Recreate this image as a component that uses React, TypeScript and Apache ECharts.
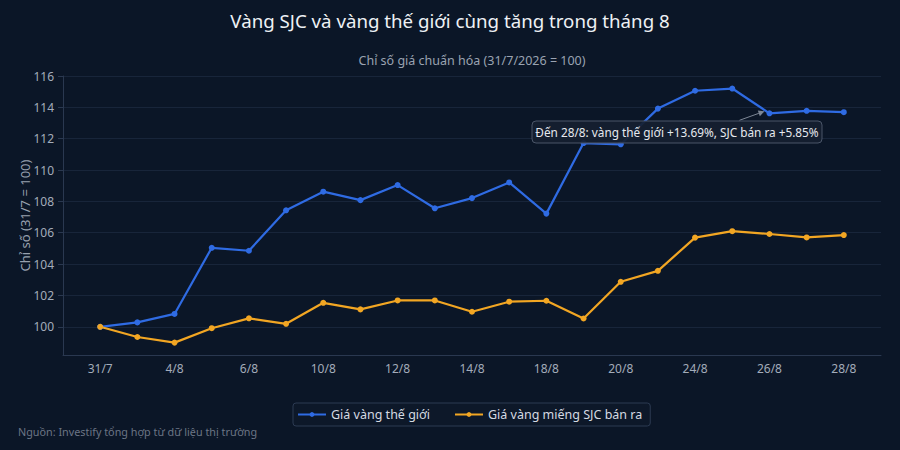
import React, { useEffect, useRef } from "react";
import * as echarts from "echarts";

const dates = [
  "31/7", "3/8", "4/8", "5/8", "6/8", "7/8", "10/8", "11/8", "12/8", "13/8", "14/8",
  "17/8", "18/8", "19/8", "20/8", "21/8", "24/8", "25/8", "26/8", "27/8", "28/8",
];
const worldGold = [
  100, 100.28, 100.82, 105.04, 104.85, 107.43, 108.62, 108.08, 109.04, 107.56, 108.21,
  109.21, 107.22, 111.72, 111.64, 113.92, 115.06, 115.2, 113.62, 113.78, 113.69,
];
const sjcGold = [
  100, 99.35, 98.99, 99.91, 100.54, 100.19, 101.53, 101.11, 101.68, 101.68, 100.96,
  101.6, 101.66, 100.53, 102.87, 103.57, 105.69, 106.1, 105.92, 105.7, 105.85,
];
const yTicks = [100, 102, 104, 106, 108, 110, 112, 114, 116];

const BG = "#0b1627";
const FONT = "Noto Sans";

const pct = (v: number) => `+${(v - 100).toFixed(2)}%`;

const App: React.FC = () => {
  const chartRef = useRef<HTMLDivElement>(null);

  useEffect(() => {
    if (!chartRef.current) return;
    const chart = echarts.init(chartRef.current, undefined, { renderer: "svg" });

    // pad one empty slot on each side so the line sits inside the frame
    const cats = ["", ...dates, ""];
    const pad = (arr: number[]) => [null, ...arr, null];
    const last = dates.length - 1;
    const note = `Đến ${dates[last]}: vàng thế giới ${pct(worldGold[last])}, SJC bán ra ${pct(sjcGold[last])}`;

    const option: echarts.EChartsOption = {
      animation: false,
      backgroundColor: BG,
      textStyle: { fontFamily: FONT },
      title: [
        {
          text: "Vàng SJC và vàng thế giới cùng tăng trong tháng 8",
          left: "center",
          top: 11,
          padding: 0,
          textStyle: { color: "#eef1f5", fontSize: 18.7, fontWeight: "normal", fontFamily: FONT },
        },
        {
          text: "Chỉ số giá chuẩn hóa (31/7/2026 = 100)",
          left: 472,
          textAlign: "center",
          top: 54,
          padding: 0,
          textStyle: { color: "#9aa3b1", fontSize: 12.5, fontWeight: "normal", fontFamily: FONT },
        },
        {
          text: "Nguồn: Investify tổng hợp từ dữ liệu thị trường",
          left: 18,
          top: 426,
          padding: 0,
          textStyle: { color: "#6b7585", fontSize: 10.8, fontWeight: "normal", fontFamily: FONT },
        },
      ],
      grid: { left: 63, right: 19, top: 76, bottom: 95 },
      legend: {
        left: 293,
        top: 403,
        padding: [5, 8, 5, 4],
        itemGap: 24,
        itemWidth: 28,
        itemHeight: 6,
        borderColor: "#2c3a52",
        borderWidth: 1,
        borderRadius: 3,
        backgroundColor: "#0d1829",
        textStyle: { color: "#d5dae2", fontSize: 12.5, fontFamily: FONT },
        data: ["Giá vàng thế giới", "Giá vàng miếng SJC bán ra"],
      },
      xAxis: {
        type: "category",
        data: cats,
        boundaryGap: false,
        axisLine: { lineStyle: { color: "#2a3850" } },
        axisTick: { show: false },
        axisLabel: {
          color: "#a3acba",
          fontSize: 12,
          margin: 7,
          interval: (i: number) => i % 2 === 1,
        },
        splitLine: { show: false },
      },
      yAxis: {
        type: "value",
        min: 98.2,
        max: 116,
        name: "Chỉ số (31/7 = 100)",
        nameLocation: "middle",
        nameGap: 32,
        nameMoveOverlap: false,
        nameTextStyle: { color: "#98a1af", fontSize: 13, fontFamily: FONT },
        axisLine: { show: true, lineStyle: { color: "#2a3850" } },
        axisTick: { show: true, length: 5, lineStyle: { color: "#2a3850" }, customValues: yTicks },
        axisLabel: { color: "#a3acba", fontSize: 12, margin: 9, customValues: yTicks },
        splitLine: { show: true, lineStyle: { color: "#18253a", width: 1 } },
      } as any,
      series: [
        {
          name: "Giá vàng thế giới",
          type: "line",
          data: pad(worldGold),
          color: "#2f6be3",
          lineStyle: { width: 2.2 },
          symbol: "circle",
          symbolSize: 6,
        },
        {
          name: "Giá vàng miếng SJC bán ra",
          type: "line",
          data: pad(sjcGold),
          color: "#f2a623",
          lineStyle: { width: 2.2 },
          symbol: "circle",
          symbolSize: 6,
        },
      ],
    };
    chart.setOption(option);

    // annotation box + arrow toward the late-month world price
    const tip = chart.convertToPixel({ gridIndex: 0 }, [19, worldGold[18]]) as number[];
    const hx = tip[0] - 5;
    const hy = tip[1] - 2;
    const tx = hx - 25;
    const ty = hy + 9;
    const ang = Math.atan2(hy - ty, hx - tx);
    const ah = 6;
    const aw = 3;
    const bx = hx - ah * Math.cos(ang);
    const by = hy - ah * Math.sin(ang);
    chart.setOption({
      graphic: [
        {
          type: "line",
          shape: { x1: tx, y1: ty, x2: bx, y2: by },
          style: { stroke: "#7d8796", lineWidth: 1 },
          z: 10,
        },
        {
          type: "polygon",
          shape: {
            points: [
              [hx, hy],
              [bx + aw * Math.sin(ang), by - aw * Math.cos(ang)],
              [bx - aw * Math.sin(ang), by + aw * Math.cos(ang)],
            ],
          },
          style: { fill: "#7d8796" },
          z: 10,
        },
        {
          type: "rect",
          shape: { x: 532, y: 121, width: 290, height: 22, r: 4 },
          style: { fill: "rgba(22,32,48,0.92)", stroke: "#4a5568", lineWidth: 1 },
          z: 10,
        },
        {
          type: "text",
          x: 677,
          y: 132,
          style: {
            text: note,
            fill: "#e6e9ee",
            fontSize: 11.8,
            fontFamily: FONT,
            align: "center",
            verticalAlign: "middle",
          },
          z: 11,
        },
      ],
    });

    return () => {
      chart.dispose();
    };
  }, []);

  return (
    <div
      ref={chartRef}
      style={{ position: "fixed", left: 0, top: 0, width: 900, height: 450, background: BG }}
    />
  );
};

export default App;
